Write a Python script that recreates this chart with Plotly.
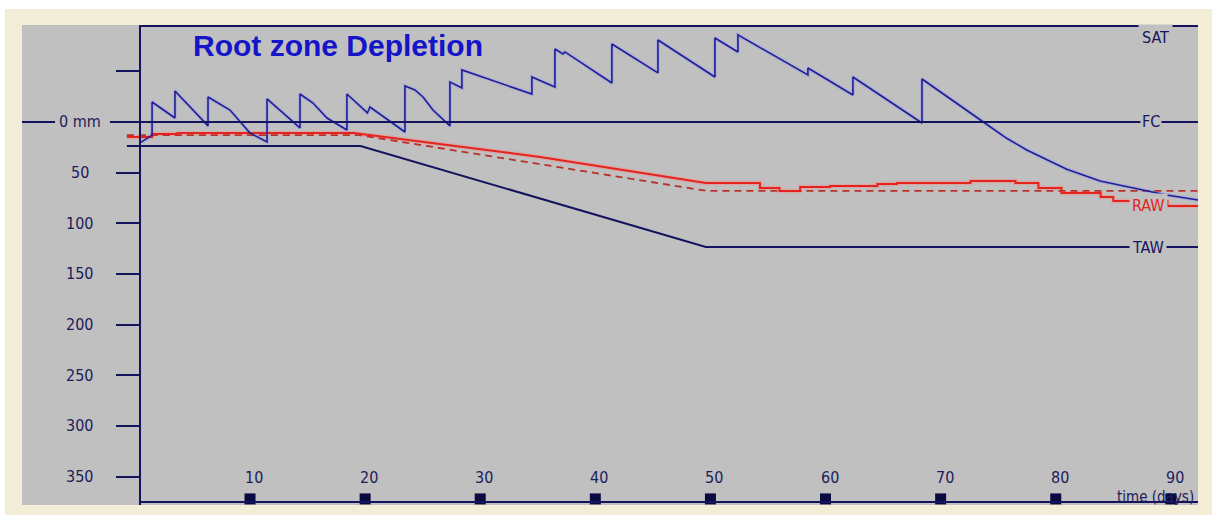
import plotly.graph_objects as go

# ---- data -------------------------------------------------------------
# Root zone depletion (mm below field capacity; negative = above FC)
dep_day = [0.44, 1.49, 1.49, 3.48, 3.48, 6.35, 6.35, 8.26, 10.0, 11.48, 11.48,
           14.34, 14.34, 15.47, 16.69, 18.42, 18.42, 20.2, 20.42, 23.46, 23.46,
           24.33, 25.03, 25.89, 27.37, 27.37, 28.41, 28.41, 34.49, 34.49, 36.49,
           36.49, 37.19, 37.36, 41.44, 41.44, 45.44, 45.44, 50.39, 50.39, 52.39,
           52.39, 58.47, 58.47, 62.38, 62.38, 68.38, 68.38, 73.71, 75.74, 77.48,
           79.22, 80.96, 83.85, 86.74, 89.64, 92.36]
dep_mm = [20.7, 13.0, -19.7, -3.9, -30.6, 3.9, -24.7, -11.8, 10.9, 19.7, -22.7,
          5.9, -27.6, -18.7, -3.9, 7.9, -27.6, -8.9, -14.8, 9.9, -35.5,
          -31.6, -24.7, -11.8, 3.9, -39.5, -33.6, -51.3, -27.6, -44.4, -34.5,
          -72.0, -67.1, -69.1, -38.5, -77.0, -48.4, -80.9, -44.4, -82.9, -69.1,
          -85.9, -46.4, -53.3, -26.6, -44.4, 1.0, -42.4, 0.0, 16.1, 27.6,
          37.5, 46.7, 58.2, 65.4, 72.0, 77.0]

# Total available water
taw_day = [-0.7, 19.6, 49.6, 92.4]
taw_mm = [23.7, 23.7, 123.4, 123.4]

# Readily available water, standard depletion fraction (dashed)
rawp_day = [-0.7, 19.5, 49.6, 92.4]
rawp_mm = [13.0, 13.0, 67.9, 67.9]

# Readily available water, adjusted to daily conditions (solid)
raw_day = [-0.7, 1.5, 1.5, 3.7, 3.7, 19.0, 35.2, 49.6, 54.3, 54.3, 56.0, 56.0,
           57.8, 57.8, 60.4, 60.4, 64.5, 64.5, 66.2, 66.2, 72.6, 72.6, 76.5,
           76.5, 78.5, 78.5, 80.5, 80.5, 83.9, 83.9, 85.0, 85.0, 89.7, 89.7,
           92.4]
raw_mm = [14.8, 14.8, 11.8, 11.8, 10.9, 10.9, 34.5, 60.2, 60.2, 65.1, 65.1,
          68.1, 68.1, 64.1, 64.1, 63.2, 63.2, 61.2, 61.2, 60.2, 60.2, 58.2,
          58.2, 60.2, 60.2, 65.1, 65.1, 70.1, 70.1, 74.0, 74.0, 78.0, 78.0,
          82.9, 82.9]

FC_MM = 0.0
SAT_MM = -94.7

y_minor_ticks = [-50]
y_ticks = [0, 50, 100, 150, 200, 250, 300, 350]
y_tick_text = ["0 mm", "50", "100", "150", "200", "250", "300", "350"]
x_ticks = [10, 20, 30, 40, 50, 60, 70, 80, 90]
x_tick_text = ["10", "20", "30", "40", "50", "60", "70", "80", "90"]

# ---- styling -----------------------------------------------------------
NAVY = "#14145e"
BLUE = "#1e1e96"
RED = "#e4231e"
RED_DASH = "#b8302a"
GRAY = "#c0c0c0"
CREAM = "#f2edd6"
TXT = "#1c1c5a"
NARROW = "Liberation Sans Narrow, DejaVu Sans Condensed, Arial Narrow, sans-serif"
LBL = 16

X_RANGE = [-9.81, 92.36]
Y_RANGE = [378.0, -95.7]
X_START = 0.44      # day at which the time axis begins
Y_BOTTOM = 375.0    # level of the time axis line
AXIS_POS = 0.1003   # paper position of the depletion axis

fig = go.Figure()

# soft halo under the plotted curves
fig.add_trace(go.Scatter(x=raw_day, y=raw_mm, mode="lines",
                         line=dict(color="rgba(240,140,140,0.45)", width=4.5),
                         hoverinfo="skip"))
fig.add_trace(go.Scatter(x=dep_day, y=dep_mm, mode="lines",
                         line=dict(color="rgba(150,150,235,0.4)", width=4),
                         hoverinfo="skip"))

fig.add_trace(go.Scatter(x=taw_day, y=taw_mm, mode="lines",
                         line=dict(color=NAVY, width=2), name="TAW"))
fig.add_trace(go.Scatter(x=rawp_day, y=rawp_mm, mode="lines",
                         line=dict(color=RED_DASH, width=1.8, dash="7px,5px"),
                         name="RAW (p)"))
fig.add_trace(go.Scatter(x=raw_day, y=raw_mm, mode="lines",
                         line=dict(color=RED, width=2), name="RAW"))
fig.add_trace(go.Scatter(x=dep_day, y=dep_mm, mode="lines",
                         line=dict(color=BLUE, width=1.6), name="Depletion"))

# decade markers on the time axis
fig.add_trace(go.Scatter(x=x_ticks, y=[372.0] * len(x_ticks), mode="markers",
                         marker=dict(symbol="square", size=11, color="#0a0a40"),
                         hoverinfo="skip"))

shapes = [
    # FC line, broken around the "0 mm" label
    dict(type="line", xref="paper", yref="y", x0=0, x1=0.0281,
         y0=FC_MM, y1=FC_MM, line=dict(color=NAVY, width=2)),
    dict(type="line", xref="paper", yref="y", x0=0.0748, x1=1,
         y0=FC_MM, y1=FC_MM, line=dict(color=NAVY, width=2)),
    # saturation line along the top
    dict(type="line", xref="x", yref="y", x0=X_START, x1=X_RANGE[1],
         y0=SAT_MM, y1=SAT_MM, line=dict(color=NAVY, width=2)),
    # time axis line
    dict(type="line", xref="x", yref="y", x0=X_START, x1=X_RANGE[1],
         y0=Y_BOTTOM, y1=Y_BOTTOM, line=dict(color=NAVY, width=2)),
    # white outer strips around the cream frame
    dict(type="rect", xref="paper", yref="paper", x0=-0.05, x1=1.05,
         y0=1.0333, y1=1.06, fillcolor="white", line=dict(width=0)),
    dict(type="rect", xref="paper", yref="paper", x0=-0.05, x1=-0.0145,
         y0=-0.05, y1=1.06, fillcolor="white", line=dict(width=0)),
]

annotations = []
for v, t in zip(y_ticks, y_tick_text):
    annotations.append(dict(x=0.0493, xref="paper", y=v, yref="y", text=t,
                            showarrow=False, xanchor="center", yanchor="middle",
                            font=dict(family=NARROW, size=LBL, color=TXT)))
for v, t in zip(x_ticks, x_tick_text):
    annotations.append(dict(x=v, xref="x", y=350.5, yref="y", text=t, xshift=4,
                            showarrow=False, xanchor="center", yanchor="middle",
                            font=dict(family=NARROW, size=LBL, color=TXT)))

label_font = dict(family=NARROW, size=LBL, color=NAVY)
annotations += [
    dict(x=88.71, y=SAT_MM, xref="x", yref="y", text="SAT", showarrow=False,
         xanchor="center", yanchor="top", bgcolor=GRAY, borderpad=3,
         yshift=2, font=label_font),
    dict(x=88.28, y=FC_MM, xref="x", yref="y", text="FC", showarrow=False,
         xanchor="center", yanchor="middle", bgcolor=GRAY, borderpad=1,
         font=label_font),
    dict(x=88.02, y=taw_mm[-1], xref="x", yref="y", text="TAW", showarrow=False,
         xanchor="center", yanchor="middle", bgcolor=GRAY, borderpad=2,
         font=label_font),
    dict(x=88.02, y=raw_mm[-1], xref="x", yref="y", text="RAW", showarrow=False,
         xanchor="center", yanchor="middle", bgcolor=GRAY, borderpad=2,
         font=dict(family=NARROW, size=LBL, color=RED)),
    dict(x=88.71, y=370.5, xref="x", yref="y", text="time (days)",
         showarrow=False, xanchor="center", yanchor="middle", borderpad=0,
         font=dict(family=NARROW, size=15, color=TXT)),
    dict(x=0.2687, y=0.9583, xref="paper", yref="paper",
         text="<b>Root zone Depletion</b>", showarrow=False,
         xanchor="center", yanchor="middle",
         font=dict(family="Liberation Sans, Arial, sans-serif", size=30,
                   color="#1414c8")),
]

fig.update_layout(
    width=1212, height=515,
    margin=dict(l=22, r=14, t=25, b=10),
    paper_bgcolor=CREAM, plot_bgcolor=GRAY,
    showlegend=False,
    shapes=shapes, annotations=annotations,
    xaxis=dict(range=X_RANGE, domain=[0, 1], visible=False, fixedrange=True),
    yaxis=dict(range=Y_RANGE, anchor="free", position=AXIS_POS,
               showline=True, linecolor=NAVY, linewidth=2,
               ticks="outside", ticklen=23, tickwidth=2, tickcolor=NAVY,
               tickvals=y_minor_ticks + y_ticks[1:], showticklabels=False,
               showgrid=False, zeroline=False, fixedrange=True),
)

fig.write_html("out.html")
